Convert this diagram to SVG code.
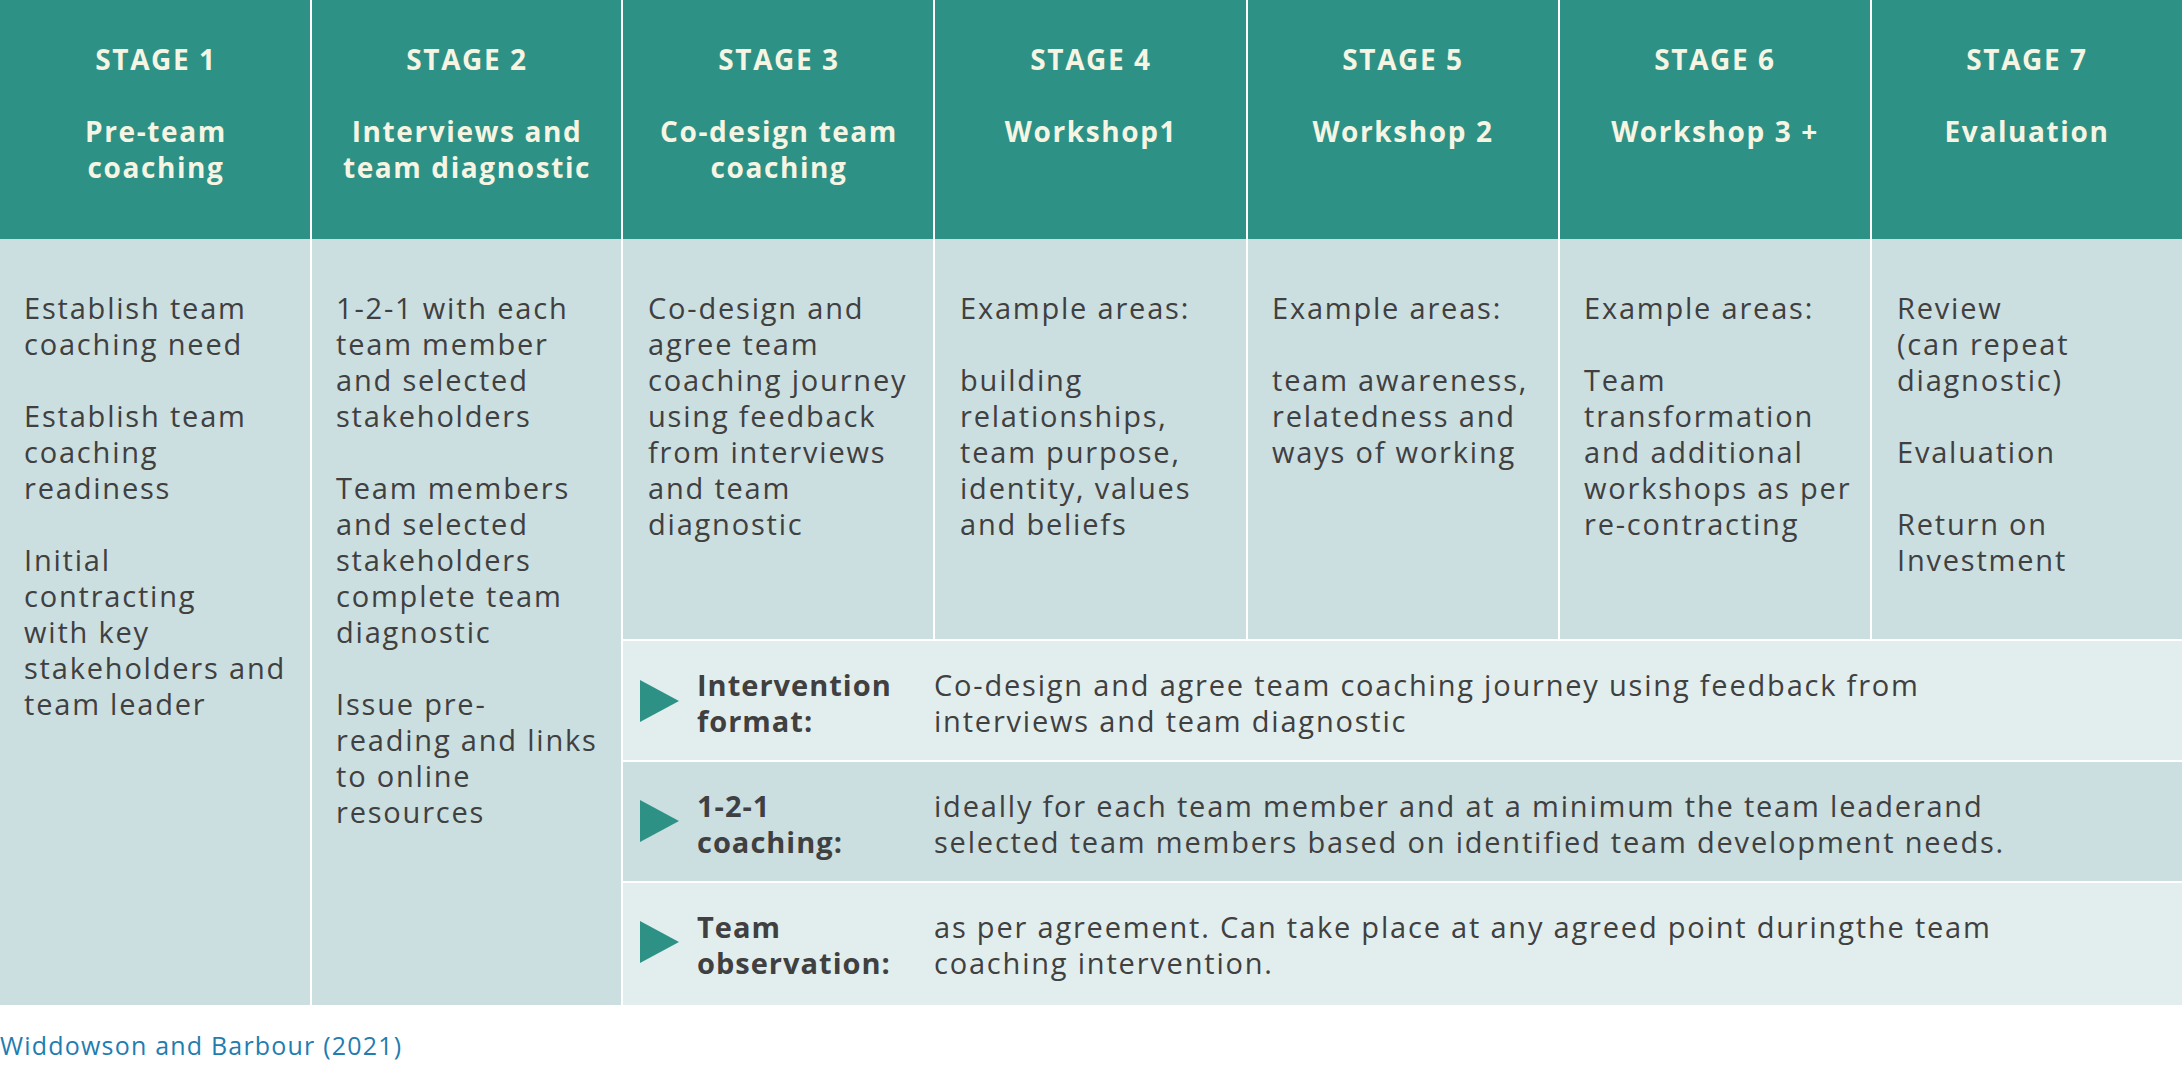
<svg xmlns="http://www.w3.org/2000/svg" width="2182" height="1068" viewBox="0 0 2182 1068">
<style>
.hd{fill:#2d9285}
.bd{fill:#cbdee0}
.lt{fill:#e2eeee}
.ht{font-family:"Open Sans","Liberation Sans",sans-serif;font-weight:700;font-size:28px;letter-spacing:1.6px;fill:#f6f5e4;text-anchor:middle}
.bt{font-family:"Open Sans","Liberation Sans",sans-serif;font-size:29px;letter-spacing:1.8px;fill:#404040}
.lb{font-family:"Open Sans","Liberation Sans",sans-serif;font-weight:700;font-size:29px;letter-spacing:1px;fill:#404040}
.tri{fill:#2d9285}
.sep{stroke:#ffffff;stroke-width:2}
</style>
<rect width="2182" height="1068" fill="#ffffff"/>
<g id="header">
<rect class="hd" x="0" y="0" width="2182" height="239"/>
</g>
<g id="body">
<rect class="bd" x="0" y="239" width="2182" height="401"/>
<rect class="bd" x="0" y="640" width="622" height="365"/>
<rect class="lt" x="622" y="640" width="1560" height="121"/>
<rect class="bd" x="622" y="761" width="1560" height="121"/>
<rect class="lt" x="622" y="882" width="1560" height="123"/>
</g>
<g id="separators">
<line class="sep" x1="311" y1="0" x2="311" y2="1005"/>
<line class="sep" x1="622" y1="0" x2="622" y2="1005"/>
<line class="sep" x1="934" y1="0" x2="934" y2="640"/>
<line class="sep" x1="1247" y1="0" x2="1247" y2="640"/>
<line class="sep" x1="1559" y1="0" x2="1559" y2="640"/>
<line class="sep" x1="1871" y1="0" x2="1871" y2="640"/>
<line class="sep" x1="622" y1="640" x2="2182" y2="640"/>
<line class="sep" x1="622" y1="761" x2="2182" y2="761"/>
<line class="sep" x1="622" y1="882" x2="2182" y2="882"/>
</g>
<g id="stage1">
<text class="ht" x="156" y="70">STAGE 1</text>
<text class="ht" x="156" y="142">Pre-team</text>
<text class="ht" x="156" y="178">coaching</text>
<text class="bt" x="24" y="319">Establish team</text>
<text class="bt" x="24" y="355">coaching need</text>
<text class="bt" x="24" y="427">Establish team</text>
<text class="bt" x="24" y="463">coaching</text>
<text class="bt" x="24" y="499">readiness</text>
<text class="bt" x="24" y="571">Initial</text>
<text class="bt" x="24" y="607">contracting</text>
<text class="bt" x="24" y="643">with key</text>
<text class="bt" x="24" y="679">stakeholders and</text>
<text class="bt" x="24" y="715">team leader</text>
</g>
<g id="stage2">
<text class="ht" x="467" y="70">STAGE 2</text>
<text class="ht" x="467" y="142">Interviews and</text>
<text class="ht" x="467" y="178">team diagnostic</text>
<text class="bt" x="336" y="319">1-2-1 with each</text>
<text class="bt" x="336" y="355">team member</text>
<text class="bt" x="336" y="391">and selected</text>
<text class="bt" x="336" y="427">stakeholders</text>
<text class="bt" x="336" y="499">Team members</text>
<text class="bt" x="336" y="535">and selected</text>
<text class="bt" x="336" y="571">stakeholders</text>
<text class="bt" x="336" y="607">complete team</text>
<text class="bt" x="336" y="643">diagnostic</text>
<text class="bt" x="336" y="715">Issue pre-</text>
<text class="bt" x="336" y="751">reading and links</text>
<text class="bt" x="336" y="787">to online</text>
<text class="bt" x="336" y="823">resources</text>
</g>
<g id="stage3">
<text class="ht" x="779" y="70">STAGE 3</text>
<text class="ht" x="779" y="142">Co-design team</text>
<text class="ht" x="779" y="178">coaching</text>
<text class="bt" x="648" y="319">Co-design and</text>
<text class="bt" x="648" y="355">agree team</text>
<text class="bt" x="648" y="391">coaching journey</text>
<text class="bt" x="648" y="427">using feedback</text>
<text class="bt" x="648" y="463">from interviews</text>
<text class="bt" x="648" y="499">and team</text>
<text class="bt" x="648" y="535">diagnostic</text>
</g>
<g id="stage4">
<text class="ht" x="1091" y="70">STAGE 4</text>
<text class="ht" x="1091" y="142">Workshop1</text>
<text class="bt" x="960" y="319">Example areas:</text>
<text class="bt" x="960" y="391">building</text>
<text class="bt" x="960" y="427">relationships,</text>
<text class="bt" x="960" y="463">team purpose,</text>
<text class="bt" x="960" y="499">identity, values</text>
<text class="bt" x="960" y="535">and beliefs</text>
</g>
<g id="stage5">
<text class="ht" x="1403" y="70">STAGE 5</text>
<text class="ht" x="1403" y="142">Workshop 2</text>
<text class="bt" x="1272" y="319">Example areas:</text>
<text class="bt" x="1272" y="391">team awareness,</text>
<text class="bt" x="1272" y="427">relatedness and</text>
<text class="bt" x="1272" y="463">ways of working</text>
</g>
<g id="stage6">
<text class="ht" x="1715" y="70">STAGE 6</text>
<text class="ht" x="1715" y="142">Workshop 3 +</text>
<text class="bt" x="1584" y="319">Example areas:</text>
<text class="bt" x="1584" y="391">Team</text>
<text class="bt" x="1584" y="427">transformation</text>
<text class="bt" x="1584" y="463">and additional</text>
<text class="bt" x="1584" y="499">workshops as per</text>
<text class="bt" x="1584" y="535">re-contracting</text>
</g>
<g id="stage7">
<text class="ht" x="2027" y="70">STAGE 7</text>
<text class="ht" x="2027" y="142">Evaluation</text>
<text class="bt" x="1897" y="319">Review</text>
<text class="bt" x="1897" y="355">(can repeat</text>
<text class="bt" x="1897" y="391">diagnostic)</text>
<text class="bt" x="1897" y="463">Evaluation</text>
<text class="bt" x="1897" y="535">Return on</text>
<text class="bt" x="1897" y="571">Investment</text>
</g>
<g id="row-intervention">
<polygon class="tri" points="640,680 679,701 640,722"/>
<text class="lb" x="697" y="696">Intervention</text>
<text class="lb" x="697" y="732">format:</text>
<text class="bt" x="934" y="696">Co-design and agree team coaching journey using feedback from</text>
<text class="bt" x="934" y="732">interviews and team diagnostic</text>
</g>
<g id="row-coaching">
<polygon class="tri" points="640,800 679,821 640,842"/>
<text class="lb" x="697" y="817">1-2-1</text>
<text class="lb" x="697" y="853">coaching:</text>
<text class="bt" x="934" y="817">ideally for each team member and at a minimum the team leaderand</text>
<text class="bt" x="934" y="853">selected team members based on identified team development needs.</text>
</g>
<g id="row-observation">
<polygon class="tri" points="640,921 679,942 640,963"/>
<text class="lb" x="697" y="938">Team</text>
<text class="lb" x="697" y="974">observation:</text>
<text class="bt" x="934" y="938">as per agreement. Can take place at any agreed point duringthe team</text>
<text class="bt" x="934" y="974">coaching intervention.</text>
</g>
<text x="0" y="1055" font-family="Open Sans, Liberation Sans, sans-serif" font-size="25" letter-spacing="1.2" fill="#1f7db0">Widdowson and Barbour (2021)</text>
</svg>
